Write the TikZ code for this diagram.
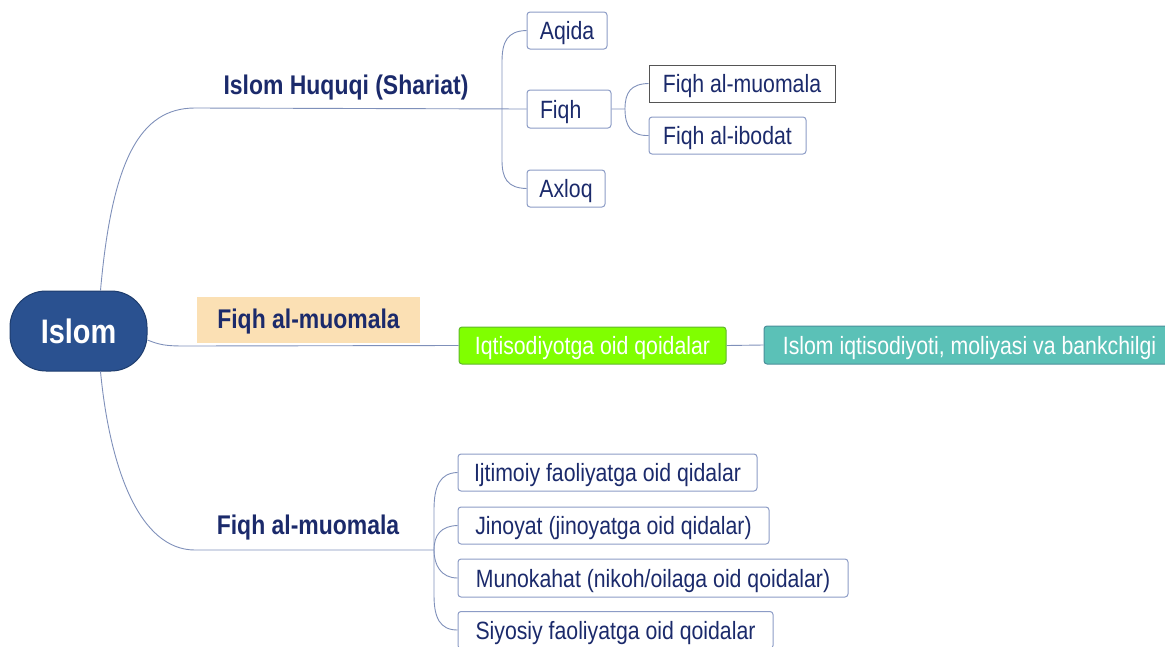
\documentclass[tikz,border=0pt]{standalone}
\usepackage{fontspec}
\setmainfont{Liberation Sans}
\newfontfamily\rfont[FakeStretch=0.85]{Liberation Sans}
\definecolor{navy}{HTML}{1B2A6B}
\definecolor{linec}{HTML}{7F90BA}
\definecolor{boxc}{HTML}{8C9CC6}
\definecolor{islomf}{HTML}{2A5190}
\definecolor{islomd}{HTML}{1E3D6E}
\definecolor{beige}{HTML}{FBE0B4}
\definecolor{limef}{HTML}{80FF00}
\definecolor{limed}{HTML}{5FB82A}
\definecolor{tealf}{HTML}{5BC1B7}
\definecolor{teald}{HTML}{4A8F9A}
\definecolor{darkbd}{HTML}{555555}
\tikzset{
 conn/.style={draw=linec, line width=0.9pt},
 bx/.style={draw=boxc, line width=1pt, rounded corners=3pt, fill=white, minimum height=37pt, inner xsep=2pt, inner ysep=1pt, text height=23pt, text depth=5pt, text=navy, font=\rfont\fontsize{25}{28}\selectfont},
 lbl/.style={text=navy, inner ysep=1pt, font=\rfont\bfseries\fontsize{27}{30}\selectfont},
}
\begin{document}
\begin{tikzpicture}[x=1pt,y=-1pt]
\useasboundingbox (0,0) rectangle (1165,646);
% root
\node[fill=islomf, draw=islomd, line width=1pt, rounded corners=36pt, minimum width=137pt, minimum height=80pt, text=white, font=\rfont\bfseries\fontsize{34}{38}\selectfont] (islom) at (78.5,331) {Islom};
% top branch
\node[lbl] (huquq) at (346,88) {Islom Huquqi (Shariat)};
\node[bx, minimum width=80pt] (aqida) at (567,30.5) {Aqida};
\node[bx, minimum width=84pt, minimum height=38pt, text width=58pt, align=left] (fiqh) at (569,109) {Fiqh};
\node[bx, minimum width=78pt] (axloq) at (566,188.5) {Axloq};
\node[bx, draw=darkbd, rounded corners=0pt, minimum width=186pt] (fmu) at (742,83.5) {Fiqh al-muomala};
\node[bx, minimum width=157pt] (fib) at (727.5,135.5) {Fiqh al-ibodat};
\draw[conn] ([xshift=22pt]islom.north) .. controls (112,160) and (140,108) .. (195,108) -- (fiqh.west);
\draw[conn] (aqida.west) .. controls (507,31) and (502,42) .. (502,62) -- (502,160) .. controls (502,178) and (507,188) .. (axloq.west);
\draw[conn] (fiqh.east) -- (625,109) .. controls (625,92) and (631,84) .. (fmu.west);
\draw[conn] (625,109) .. controls (625,126) and (631,136) .. (fib.west);
% middle branch
\node[bx, fill=limef, draw=limed, text=white, minimum width=267pt] (iqt) at (592.5,345.5) {Iqtisodiyotga oid qoidalar};
\node[bx, fill=tealf, draw=teald, text=white, minimum width=411pt, minimum height=38pt] (bank) at (969.5,345) {Islom iqtisodiyoti, moliyasi va bankchilgi};
\draw[conn] ([yshift=-9pt]islom.east) .. controls (160,345) and (166,346) .. (185,346) -- (iqt.west);
\draw[conn] (iqt.east) -- (bank.west);
\node[lbl, fill=beige, minimum width=223pt, minimum height=46pt, text height=20pt, text depth=4pt] (mid) at (308.5,320) {Fiqh al-muomala};
% bottom branch
\node[lbl] (low) at (308,528) {Fiqh al-muomala};
\node[bx, minimum width=299pt] (ijt) at (607.5,472.5) {Ijtimoiy faoliyatga oid qidalar};
\node[bx, minimum width=311pt] (jin) at (613.5,525.5) {Jinoyat (jinoyatga oid qidalar)};
\node[bx, minimum width=390pt, minimum height=38pt] (mun) at (653,578) {Munokahat (nikoh/oilaga oid qoidalar)};
\node[bx, minimum width=315pt] (siy) at (615.5,630) {Siyosiy faoliyatga oid qoidalar};
\draw[conn] ([xshift=22pt]islom.south) .. controls (110,470) and (140,550) .. (195,550) -- (434,550);
\draw[conn] (ijt.west) .. controls (440,473) and (434,486) .. (434,510) -- (434,595) .. controls (434,618) and (440,630) .. (siy.west);
\draw[conn] (jin.west) .. controls (441,526) and (434,535) .. (434,550);
\draw[conn] (mun.west) .. controls (441,578) and (434,565) .. (434,550);
\end{tikzpicture}
\end{document}
